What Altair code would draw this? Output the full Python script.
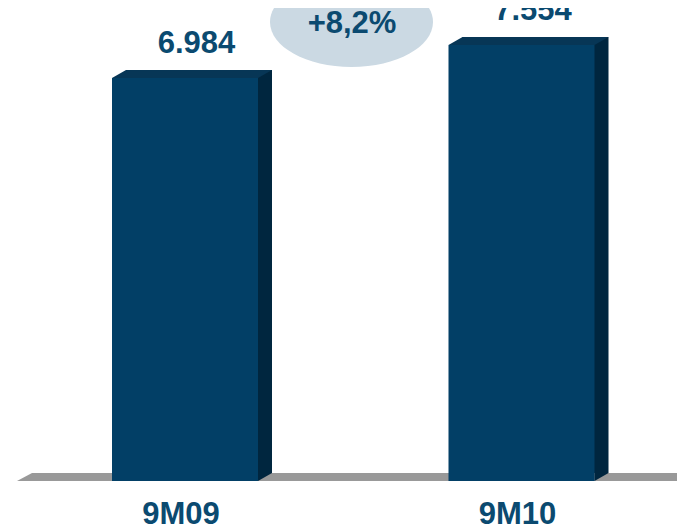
import altair as alt
import pandas as pd

# ---- data ----
categories = ["9M09", "9M10"]
values = [6984, 7554]

value_labels = [f"{v:,}".replace(",", ".") for v in values]
growth = (values[1] / values[0] - 1) * 100
growth_label = f"+{growth:.1f}%".replace(".", ",")

df = pd.DataFrame({
    "cat": categories,
    "value": values,
    "label": value_labels,
    "zero": [0, 0],
    "growth": [growth_label, growth_label],
})

# ---- style ----
W, H = 669, 521
FRONT = "#023f66"
TOP = "#073656"
SIDE = "#00263f"
GRAY = "#999999"
TEXT = "#0b4a70"
ELL = "#cbd9e3"
FONT = "Liberation Sans"

x_scale = alt.Scale(type="point", domain=categories, range=[177, 513.5], padding=0)
y_scale = alt.Scale(domain=[-831.8, 8197.0], nice=False, zero=False)

X = alt.X("cat:N", scale=x_scale, axis=None)
Y = alt.Y("value:Q", scale=y_scale, axis=None)
Y0 = alt.Y("zero:Q", scale=y_scale, axis=None)
Y2_0 = alt.Y2("zero:Q")

base = alt.Chart(df)
first = alt.Chart(df).transform_filter(alt.datum.cat == categories[0])

floor = first.mark_rect(color=GRAY, yOffset=-8).encode(
    x=alt.value(24), x2=alt.value(W), y=Y0, y2=Y2_0
)
floor_tri = first.mark_point(
    shape="M0,0 L-15,0 L0,-8 Z", size=4, filled=True, fill=GRAY,
    opacity=1, strokeWidth=0
).encode(x=alt.value(24), y=Y0)

side = base.mark_bar(color=SIDE, size=146, xOffset=14, yOffset=-8, y2Offset=-8).encode(
    x=X, y=Y, y2=Y2_0
)
side_tri = base.mark_point(
    shape="M0,0 L0,-8 L14,-8 Z", size=4, filled=True, fill=SIDE,
    opacity=1, strokeWidth=0, xOffset=73
).encode(x=X, y=Y0)

front = base.mark_bar(color=FRONT, size=146).encode(x=X, y=Y, y2=Y2_0)

top = base.mark_point(
    shape="M0,0 L14,-8 L160,-8 L146,0 Z", size=4, filled=True, fill=TOP,
    opacity=1, strokeWidth=0, xOffset=-73
).encode(x=X, y=Y)

val_text = base.mark_text(
    font=FONT, fontSize=31, fontWeight="bold", color=TEXT,
    baseline="alphabetic", align="center", dx=11.5, dy=-25
).encode(x=X, y=Y, text="label:N")

cat_text = base.mark_text(
    font=FONT, fontSize=31, fontWeight="bold", color=TEXT,
    baseline="alphabetic", align="center", dx=-4, dy=43
).encode(x=X, y=Y0, text="cat:N")

ELLIPSE = ("M-81.5,0 C-81.5,-24.85 -45.01,-45 0,-45 C45.01,-45 81.5,-24.85 81.5,0 "
           "C81.5,24.85 45.01,45 0,45 C-45.01,45 -81.5,24.85 -81.5,0 Z")
ellipse = first.mark_point(
    shape=ELLIPSE, size=4, filled=True, fill=ELL, opacity=1, strokeWidth=0
).encode(x=alt.value(343.5), y=alt.value(14))

growth_text = first.mark_text(
    font=FONT, fontSize=31, fontWeight="bold", color=TEXT,
    baseline="alphabetic", align="center"
).encode(x=alt.value(344), y=alt.value(25), text="growth:N")

chart = alt.layer(
    floor, floor_tri, side, side_tri, front, top, val_text, cat_text,
    ellipse, growth_text
).properties(
    width=W, height=H, padding=0, autosize="none", background="white"
).configure_view(stroke=None)

chart.save("out.html", embed_options={"renderer": "svg", "actions": False})
